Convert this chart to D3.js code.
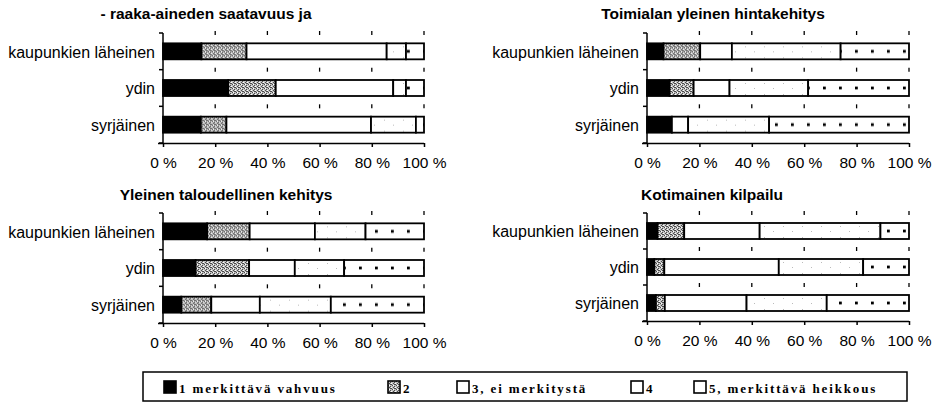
<!DOCTYPE html>
<html>
<head>
<meta charset="utf-8">
<script src="https://cdn.jsdelivr.net/npm/d3@7"></script>
<style>
  html, body { margin: 0; padding: 0; background: #fff; }
  svg { display: block; }
  text { font-family: "Liberation Sans", Arial, Helvetica, sans-serif; fill: #000; }
</style>
</head>
<body>
<svg id="chart" width="941" height="403"></svg>
<script>
// ---------- DATA ----------
const categories = ["kaupunkien läheinen", "ydin", "syrjäinen"];
const seriesNames = ["1 merkittävä vahvuus", "2", "3, ei merkitystä", "4", "5, merkittävä heikkous"];
const tickValues = [0, 20, 40, 60, 80, 100];
const panelTitles = [
  "- raaka-aineden saatavuus ja",
  "Toimialan yleinen hintakehitys",
  "Yleinen taloudellinen kehitys",
  "Kotimainen kilpailu"
];
// shares (%) per category, series 1..5
const raakaAine = [
  [14.7, 17.3, 53.7, 7.4, 6.9],
  [25.0, 18.2, 45.0, 4.9, 6.9],
  [14.5, 9.8, 55.4, 17.2, 3.1]
];
const hintakehitys = [
  [6.3, 14.0, 12.1, 41.5, 26.1],
  [8.6, 9.2, 13.7, 30.0, 38.5],
  [9.5, 0.0, 6.2, 30.9, 53.4]
];
const taloudellinen = [
  [16.9, 16.3, 25.0, 19.4, 22.4],
  [12.5, 20.5, 17.5, 18.9, 30.6],
  [7.0, 11.5, 18.6, 27.2, 35.7]
];
const kilpailu = [
  [4.0, 10.2, 28.8, 46.1, 10.9],
  [2.8, 3.8, 43.7, 32.2, 17.5],
  [3.4, 3.4, 31.2, 30.6, 31.4]
];
const panelValues = [raakaAine, hintakehitys, taloudellinen, kilpailu];

// ---------- LAYOUT ----------
const panels = [
  { x0: 163, x1: 424, y0: 33, y1: 143, tx: 206, ty: 19 },
  { x0: 647, x1: 909, y0: 33, y1: 143, tx: 713, ty: 19 },
  { x0: 163, x1: 424, y0: 213, y1: 323, tx: 226, ty: 199.5 },
  { x0: 647, x1: 909, y0: 213, y1: 321, tx: 712, ty: 199.5 }
];
const barH = 16;

const svg = d3.select("#chart");
const defs = svg.append("defs");

// pattern 2: dark stipple
const p2 = defs.append("pattern").attr("id", "pat2").attr("patternUnits", "userSpaceOnUse")
  .attr("width", 4).attr("height", 4);
p2.append("rect").attr("width", 4).attr("height", 4).attr("fill", "#c0c0c0");
[[0,0],[2,1],[1,2],[3,3],[2,3]].forEach(([x,y]) =>
  p2.append("rect").attr("x", x).attr("y", y).attr("width", 1).attr("height", 1).attr("fill", "#4a4a4a"));
[[1,0],[3,2]].forEach(([x,y]) =>
  p2.append("rect").attr("x", x).attr("y", y).attr("width", 1).attr("height", 1).attr("fill", "#fff"));

// pattern 4: sparse faint dots
const p4 = defs.append("pattern").attr("id", "pat4").attr("patternUnits", "userSpaceOnUse")
  .attr("width", 19).attr("height", 11);
p4.append("rect").attr("width", 19).attr("height", 11).attr("fill", "#fff");
[[4,3],[13,8]].forEach(([x,y]) =>
  p4.append("rect").attr("x", x).attr("y", y).attr("width", 1).attr("height", 1).attr("fill", "#bbb"));

// pattern 5: row of black dots
const p5 = defs.append("pattern").attr("id", "pat5").attr("patternUnits", "userSpaceOnUse")
  .attr("width", 16).attr("height", barH);
p5.append("rect").attr("width", 16).attr("height", barH).attr("fill", "#fff");
p5.append("rect").attr("x", 7).attr("y", barH / 2 - 1.4).attr("width", 2.8).attr("height", 2.8).attr("fill", "#000");

const fills = ["#000", "url(#pat2)", "#fff", "url(#pat4)", "url(#pat5)"];

panels.forEach((p, pi) => {
  const vals = panelValues[pi];
  const rows = categories.map((c, i) => {
    const o = { cat: c };
    seriesNames.forEach((s, j) => o[s] = vals[i][j]);
    return o;
  });
  const stack = d3.stack().keys(seriesNames)(rows);

  const x = d3.scaleLinear().domain([0, 100]).range([p.x0, p.x1]);
  const step = (p.y1 - p.y0) / categories.length;
  const pad = 1 - barH / step;
  const y = d3.scaleBand().domain(categories).range([p.y0, p.y1])
    .paddingInner(pad).paddingOuter(pad / 2);

  const g = svg.append("g");

  // title
  g.append("text").attr("x", p.tx).attr("y", p.ty).attr("text-anchor", "middle")
    .attr("font-size", 15.5).attr("font-weight", "bold").text(panelTitles[pi]);

  // bars
  const rowsG = g.selectAll("g.row").data(categories).join("g")
    .attr("transform", c => `translate(0,${y(c)})`);
  rowsG.each(function(c, ci) {
    const rg = d3.select(this);
    stack.forEach((layer, li) => {
      const d = layer[ci];
      if (d[1] - d[0] <= 0) return;
      rg.append("rect")
        .attr("x", x(d[0])).attr("y", 0)
        .attr("width", x(d[1]) - x(d[0])).attr("height", y.bandwidth())
        .attr("fill", fills[li]).attr("stroke", "#000").attr("stroke-width", 1.8);
    });
  });

  // category labels
  g.selectAll("text.cat").data(categories).join("text")
    .attr("class", "cat")
    .attr("x", p.x0 - 8).attr("y", c => y(c) + y.bandwidth() / 2)
    .attr("dy", "0.4em").attr("text-anchor", "end").attr("font-size", 16)
    .text(c => c);

  // y axis line + ticks at band boundaries
  const bounds = d3.range(categories.length + 1).map(i => p.y0 + i * step);
  g.append("line").attr("x1", p.x0).attr("x2", p.x0).attr("y1", p.y0).attr("y2", p.y1)
    .attr("stroke", "#000").attr("stroke-width", 1.5);
  g.selectAll("line.yt").data(bounds).join("line").attr("class", "yt")
    .attr("x1", p.x0 - 4).attr("x2", p.x0).attr("y1", d => d).attr("y2", d => d)
    .attr("stroke", "#000").attr("stroke-width", 1.5);

  // x axis
  const xAxis = d3.axisBottom(x).tickValues(tickValues).tickFormat(d => d + " %")
    .tickSize(4).tickSizeOuter(0);
  const ax = g.append("g").attr("transform", `translate(0,${p.y1})`).call(xAxis);
  ax.select(".domain").attr("d", `M${p.x0 - 5},0.5H${p.x1}`).attr("stroke-width", 1.5);
  ax.selectAll(".tick line").attr("stroke-width", 1.5);
  ax.selectAll(".tick text").attr("font-size", 15.5).attr("y", 14)
    .attr("font-family", "Liberation Sans, Arial, sans-serif").attr("fill", "#000");

  // small grid marks at band boundaries
  const marks = [];
  tickValues.filter(v => v > 0).forEach(v => bounds.slice(0, -1).forEach(b => marks.push([v, b])));
  g.selectAll("line.gm").data(marks).join("line").attr("class", "gm")
    .attr("x1", d => x(d[0])).attr("x2", d => x(d[0]))
    .attr("y1", d => d[1] - 2).attr("y2", d => d[1] + 2)
    .attr("stroke", "#000").attr("stroke-width", 1.3);
});

// ---------- LEGEND ----------
const legend = svg.append("g");
legend.append("rect").attr("x", 143).attr("y", 372).attr("width", 764).attr("height", 29)
  .attr("fill", "#fff").attr("stroke", "#000").attr("stroke-width", 1.5);
const legendX = [164, 388, 457, 631, 694];
const items = legend.selectAll("g.li").data(seriesNames).join("g")
  .attr("transform", (d, i) => `translate(${legendX[i]},381)`);
items.append("rect").attr("width", 12).attr("height", 12)
  .attr("fill", (d, i) => fills[i] === "url(#pat5)" || fills[i] === "url(#pat4)" ? "#fff" : fills[i])
  .attr("stroke", "#000").attr("stroke-width", 1.6);
items.append("text").attr("x", 15).attr("y", 11.5)
  .style("font-family", "'Liberation Serif', 'Times New Roman', serif")
  .attr("font-size", 13).attr("font-weight", "bold").attr("letter-spacing", 1.85)
  .text(d => d);
</script>
</body>
</html>
